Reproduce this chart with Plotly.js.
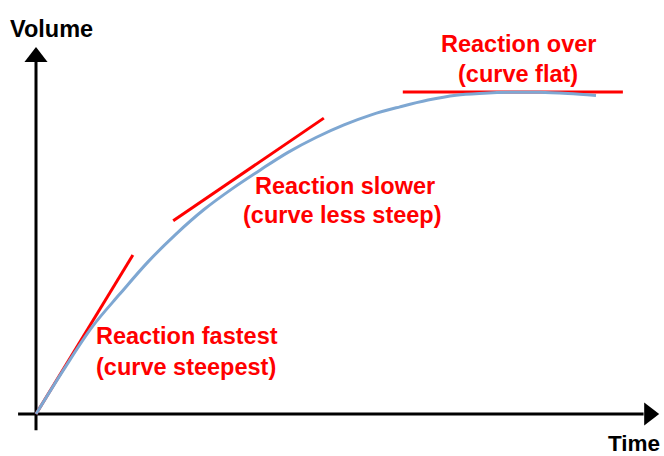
<!DOCTYPE html>
<html>
<head>
<meta charset="utf-8">
<script src="https://cdn.plot.ly/plotly-3.0.1.min.js"></script>
<style>html,body{margin:0;padding:0;background:#fff;}#chart{width:664px;height:456px;}</style>
</head>
<body>
<div id="chart"></div>
<script>
// Reaction curve (time, volume)
const time = [0, 0.5, 1, 1.5, 2, 2.5, 3, 3.5, 4, 4.5, 5, 5.5, 6, 6.5, 7, 7.5, 8, 8.5, 9, 9.5, 10];
const volume = [0, 13.9, 26.9, 37.2, 47.1, 55.7, 63.3, 69.7, 75.5, 81.0, 85.6, 89.5, 92.7, 95.1, 97.2, 98.7, 99.3, 99.6, 99.6, 99.2, 98.6];

// Tangent lines
const fastTime = [0, 1.73];
const fastVolume = [0, 49.2];
const slowTime = [2.45, 5.14];
const slowVolume = [59.8, 91.6];
const flatTime = [6.55, 10.48];
const flatVolume = [99.7, 99.7];

// Axis arrows
const yAxisTime = [0, 0];
const yAxisVolume = [-5, 109];
const xAxisTime = [-0.32, 10.85];
const xAxisVolume = [0, 0];

// Labels
const labelTexts = ["Reaction over", "(curve flat)", "Reaction slower", "(curve less steep)", "Reaction fastest", "(curve steepest)"];
const labelTime = [8.61, 8.61, 5.52, 5.47, 2.7, 2.68];
const labelVolume = [114.6, 105.2, 70.7, 61.6, 24.1, 14.6];
const axisTitles = ["Volume", "Time"];

const px = 56, py = 3.23;
const textFont = {family: "Liberation Sans, Arial, sans-serif", size: 23.5, color: "#ff0000", weight: "bold"};

const traces = [
  {x: yAxisTime, y: yAxisVolume, mode: "lines", line: {color: "#000", width: 3}, hoverinfo: "skip"},
  {x: xAxisTime, y: xAxisVolume, mode: "lines", line: {color: "#000", width: 3}, hoverinfo: "skip"},
  {x: [0], y: [110.5], mode: "markers", marker: {symbol: "triangle-up", size: 20, color: "#000"}, hoverinfo: "skip"},
  {x: [10.95], y: [0], mode: "markers", marker: {symbol: "triangle-right", size: 20, color: "#000"}, hoverinfo: "skip"},
  {x: fastTime, y: fastVolume, mode: "lines", line: {color: "#ff0000", width: 3}},
  {x: slowTime, y: slowVolume, mode: "lines", line: {color: "#ff0000", width: 3}},
  {x: flatTime, y: flatVolume, mode: "lines", line: {color: "#ff0000", width: 3}},
  {x: time, y: volume, mode: "lines", line: {color: "#7ea7d2", width: 3, shape: "spline", smoothing: 1}}
];

const annotations = labelTexts.map((t, i) => ({
  x: labelTime[i], y: labelVolume[i], xref: "x", yref: "y", text: "<b>" + t + "</b>",
  showarrow: false, xanchor: "center", yanchor: "middle", font: textFont
}));
annotations.push({x: 0.27, y: 119.3, xref: "x", yref: "y", text: "<b>" + axisTitles[0] + "</b>", showarrow: false,
  xanchor: "center", yanchor: "middle", font: {family: "Liberation Sans, Arial, sans-serif", size: 23.5, color: "#000"}});
annotations.push({x: 10.68, y: -9.0, xref: "x", yref: "y", text: "<b>" + axisTitles[1] + "</b>", showarrow: false,
  xanchor: "center", yanchor: "middle", font: {family: "Liberation Sans, Arial, sans-serif", size: 22.5, color: "#000"}});

const layout = {
  width: 664, height: 456,
  margin: {l: 0, r: 0, t: 0, b: 0},
  paper_bgcolor: "#fff", plot_bgcolor: "#fff",
  showlegend: false,
  xaxis: {range: [-36 / px, (664 - 36) / px], visible: false, fixedrange: true},
  yaxis: {range: [(414 - 456) / py, 414 / py], visible: false, fixedrange: true},
  annotations: annotations
};

Plotly.newPlot("chart", traces, layout, {staticPlot: true});
</script>
</body>
</html>
